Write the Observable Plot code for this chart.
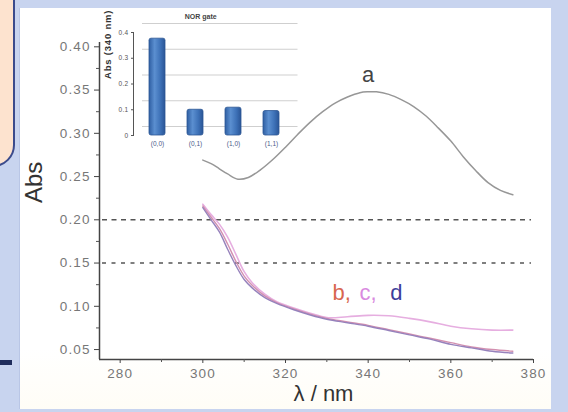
<!DOCTYPE html>
<html><head><meta charset="utf-8">
<script src="https://cdn.jsdelivr.net/npm/d3@7"></script>
<script src="https://cdn.jsdelivr.net/npm/@observablehq/plot@0.6"></script>
<style>
html,body{margin:0;padding:0;background:#c8d4ef;}
#wrap{position:relative;width:568px;height:412px;overflow:hidden;background:#c8d4ef;font-family:"Liberation Sans",Arial,sans-serif;}
#panel{position:absolute;left:19px;top:8px;width:531px;height:401px;background:linear-gradient(#ffffff 85%,#fffdf6);border-left:1px solid #b9c6e6;}
#peach{position:absolute;left:-30px;top:-30px;width:41px;height:193px;background:#fde3cf;border:2.5px solid #3b4b8c;border-radius:0 0 22px 0;}
#dash{position:absolute;left:0;top:360px;width:12px;height:5px;background:#1f2d5c;}
#main,#inset{position:absolute;top:0;}
#main{left:0;}
#inset{left:100px;}
#main [aria-label$="tick label"] text{letter-spacing:1.1px;}
#inset [aria-label="y-axis tick label"] text{letter-spacing:0.3px;}
#inset .ylab text{letter-spacing:0.8px;}
</style></head>
<body><div id="wrap"><div id="panel"></div><div id="peach"></div><div id="dash"></div><div id="main"></div><div id="inset"></div></div>
<script>
// ---- main spectra ----
const nmA  = [300, 302, 304, 306, 308.5, 311, 314, 317, 320, 323, 326, 329, 332, 335, 338, 340, 342, 345, 348, 351, 354, 357, 360, 363, 366, 369, 372, 375];
const absA = [0.269, 0.265, 0.259, 0.253, 0.247, 0.249, 0.258, 0.270, 0.284, 0.299, 0.313, 0.325, 0.335, 0.342, 0.347, 0.348, 0.348, 0.345, 0.339, 0.331, 0.320, 0.306, 0.291, 0.273, 0.257, 0.243, 0.234, 0.229];

const nmBCD = [300, 302, 304, 306, 308, 310, 312, 315, 318, 322, 326, 330, 335, 340, 345, 350, 355, 360, 365, 370, 375];
const absB  = [0.216, 0.203, 0.190, 0.172, 0.152, 0.135, 0.124, 0.112, 0.104, 0.097, 0.091, 0.086, 0.082, 0.078, 0.073, 0.068, 0.063, 0.058, 0.053, 0.050, 0.048];
const absC  = [0.218, 0.206, 0.195, 0.180, 0.160, 0.140, 0.127, 0.114, 0.105, 0.098, 0.092, 0.087, 0.088, 0.0895, 0.089, 0.086, 0.082, 0.077, 0.074, 0.0725, 0.0725];
const absD  = [0.214, 0.200, 0.186, 0.166, 0.147, 0.131, 0.121, 0.110, 0.103, 0.096, 0.090, 0.085, 0.081, 0.077, 0.072, 0.067, 0.062, 0.056, 0.052, 0.048, 0.046];

const thresholds = [0.20, 0.15];
const xDomain = [275, 380];
const yDomain = [0.0385, 0.405];
const xMajor = [280, 300, 320, 340, 360, 380];
const xMinor = [290, 310, 330, 350, 370];
const yMajor = [0.05, 0.10, 0.15, 0.20, 0.25, 0.30, 0.35, 0.40];
const yMinor = [0.075, 0.125, 0.175, 0.225, 0.275, 0.325, 0.375];

// annotation anchors (data units)
const labelA = [{text: "a", x: 340, y: 0.368}];
const labelBCD = [
  {text: "b,", x: 333.6, y: 0.116, color: "#d8664f"},
  {text: "c,", x: 340.0, y: 0.116, color: "#d98ae0"},
  {text: "d",  x: 346.8, y: 0.116, color: "#3d3d9a"}
];

// ---- inset (NOR gate) ----
const gates = ["(0,0)", "(0,1)", "(1,0)", "(1,1)"];
const gateAbs = [0.376, 0.100, 0.108, 0.095];
const insetTicks = [0, 0.1, 0.2, 0.3, 0.4];

const A = nmA.map((x, i) => ({x, y: absA[i]}));
const mk = arr => nmBCD.map((x, i) => ({x, y: arr[i]}));
const B = mk(absB), C = mk(absC), D = mk(absD);

const main = Plot.plot({
  width: 568, height: 412,
  marginLeft: 99, marginRight: 35, marginTop: 42, marginBottom: 53,
  style: {background: "transparent", fontFamily: "Liberation Sans, Arial, sans-serif"},
  x: {domain: xDomain, axis: null},
  y: {domain: yDomain, axis: null},
  marks: [
    Plot.ruleY([thresholds[0]], {stroke: "#555", strokeWidth: 1.4, strokeDasharray: "5,4.5", insetLeft: 3, insetRight: 2}),
    Plot.ruleY([thresholds[1]], {stroke: "#555", strokeWidth: 1.4, strokeDasharray: "4,5.5", insetLeft: 3, insetRight: 2}),
    Plot.line(A, {x: "x", y: "y", stroke: "#979797", strokeWidth: 1.5, curve: "catmull-rom"}),
    Plot.line(C, {x: "x", y: "y", stroke: "#e6aee0", strokeWidth: 1.6, curve: "catmull-rom"}),
    Plot.line(B, {x: "x", y: "y", stroke: "#d390b0", strokeWidth: 1.4, curve: "catmull-rom"}),
    Plot.line(D, {x: "x", y: "y", stroke: "#9682bc", strokeWidth: 1.4, curve: "catmull-rom"}),
    Plot.ruleX([xDomain[0]], {stroke: "#444", strokeWidth: 1.5}),
    Plot.ruleY([yDomain[0]], {stroke: "#444", strokeWidth: 1.5}),
    Plot.axisY({ticks: yMajor, tickSize: 5, tickPadding: 4, tickFormat: d3.format(".2f"), fontSize: 13.5, stroke: "#444", fill: "#777", label: null}),
    Plot.axisY({ticks: yMinor, tickSize: 3, text: null, stroke: "#555", label: null}),
    Plot.axisX({ticks: xMajor, tickSize: 4, tickPadding: 5, tickFormat: d => String(d), fontSize: 13.5, stroke: "#444", fill: "#777", label: null}),
    Plot.axisX({ticks: xMinor, tickSize: 3, text: null, stroke: "#555", label: null}),
    Plot.text(["Abs"], {frameAnchor: "left", dx: -65, dy: 2, rotate: -90, fontSize: 24, fill: "#333"}),
    Plot.text(["λ / nm"], {frameAnchor: "bottom", dx: 7, dy: 41, fontSize: 22, fill: "#333"}),
    Plot.text(labelA, {x: "x", y: "y", text: "text", fontSize: 22, fill: "#444"}),
    Plot.text(labelBCD, {x: "x", y: "y", text: "text", fill: "color", fontSize: 22})
  ]
});
document.getElementById("main").appendChild(main);

const gateData = gates.map((g, i) => ({gate: g, value: gateAbs[i]}));
const inset = Plot.plot({
  width: 200, height: 160,
  marginLeft: 33, marginRight: 4.5, marginTop: 32, marginBottom: 25,
  style: {background: "transparent", fontFamily: "Liberation Sans, Arial, sans-serif"},
  x: {domain: gates, paddingInner: 0.584, paddingOuter: 0.4026, axis: null},
  y: {domain: [0, 0.4], axis: null},
  marks: [
    Plot.ruleY(insetTicks, {dy: -9, insetLeft: 9, insetRight: -2, stroke: "#cfcfcf", strokeWidth: 1.2}),
    Plot.barY(gateData, {x: "gate", y: "value", fill: "url(#barGrad)", stroke: "#2c5794", strokeWidth: 0.8, rx: 2}),
    Plot.frame({anchor: "left", stroke: "#555"}),
    Plot.axisY({ticks: insetTicks, tickSize: 2, tickPadding: 3, tickFormat: d3.format("~g"), fontSize: 6.5, fill: "#555", stroke: "#555", label: null}),
    Plot.axisX({tickSize: 0, tickPadding: 6, fontSize: 6.5, fill: "#4a5c88", label: null}),
    Plot.text(["NOR gate"], {frameAnchor: "top", dx: -14, dy: -18, fontSize: 7, fontWeight: "bold", fill: "#444"}),
    Plot.text(["Abs (340 nm)"], {frameAnchor: "left", dx: -26, dy: -5, rotate: -90, fontSize: 9.5, fontWeight: "bold", fill: "#333", className: "ylab"})
  ]
});
inset.insertAdjacentHTML("afterbegin",
  '<defs><linearGradient id="barGrad" x1="0" x2="1" y1="0" y2="0">' +
  '<stop offset="0" stop-color="#2f5fa3"/><stop offset="0.35" stop-color="#5b8fd0"/>' +
  '<stop offset="0.7" stop-color="#3e72b8"/><stop offset="1" stop-color="#2a5596"/></linearGradient></defs>');
document.getElementById("inset").appendChild(inset);
</script></body></html>
